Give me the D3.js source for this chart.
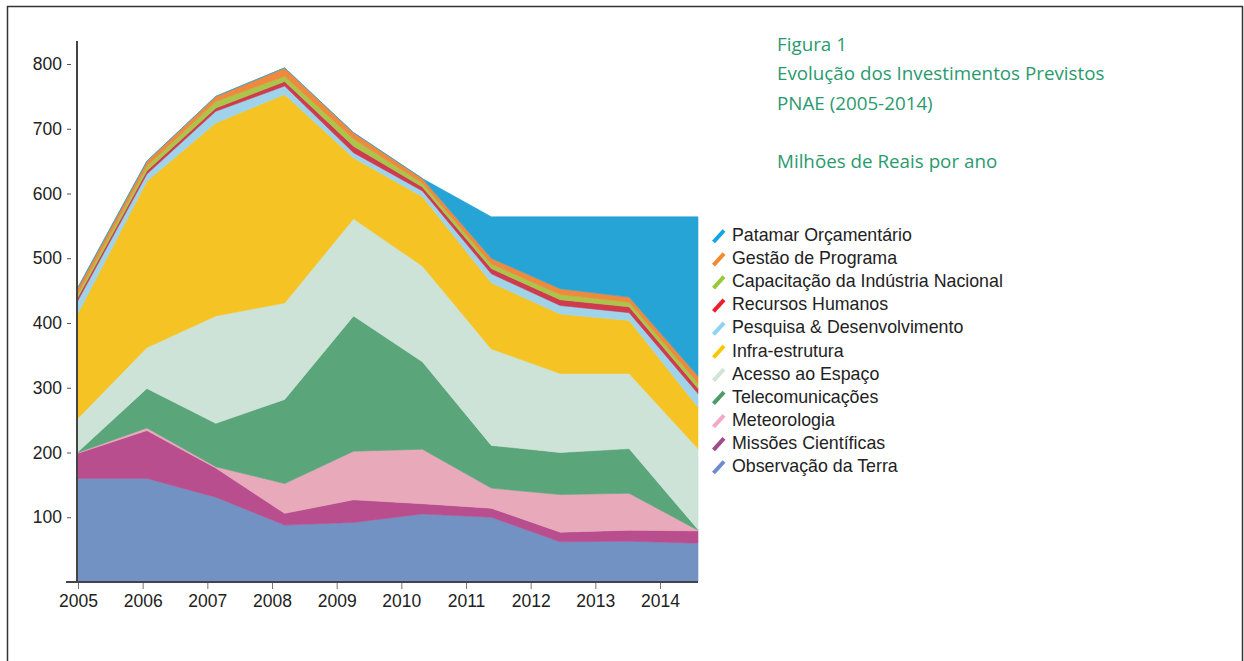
<!DOCTYPE html>
<html>
<head>
<meta charset="utf-8">
<script src="https://cdn.jsdelivr.net/npm/d3@7"></script>
<style>
  body { margin: 0; background: #fff; }
  svg text { font-family: "Liberation Sans", Arial, sans-serif; }
</style>
</head>
<body>
<div id="container"></div>
<script>
// years and series (Milhões de Reais por ano), bottom to top of the stack
var years = [2005, 2006, 2007, 2008, 2009, 2010, 2011, 2012, 2013, 2014]
var observacao = [160, 160, 131, 88, 92, 105, 100, 62, 63, 60]
var missoes = [39, 74, 45, 18, 35, 16, 14, 15, 17, 19]
var meteorologia = [1, 4, 2, 46, 75, 84, 31, 58, 57, 1]
var telecom = [1, 61, 67, 130, 209, 135, 66, 65, 69, 1]
var acesso = [52, 63, 166, 149, 150, 148, 149, 122, 116, 125]
var infra = [162, 257, 298, 322, 94, 107, 102, 92, 82, 64]
var pesquisa = [20, 11, 18, 13, 8, 9, 14, 13, 12, 21]
var recursos = [5, 5, 5, 7, 10, 6, 8, 9, 9, 8]
var capacitacao = [6, 7, 10, 8, 11, 6, 7, 8, 7, 8]
var gestao = [9, 8, 8, 13, 10, 7, 9, 9, 8, 11]
var patamar = [0, 0, 0, 0, 0, 0, 64, 111, 124, 246]

var yTicks = [100, 200, 300, 400, 500, 600, 700, 800]

var seriesNames = ["Observação da Terra", "Missões Científicas", "Meteorologia", "Telecomunicações",
  "Acesso ao Espaço", "Infra-estrutura", "Pesquisa & Desenvolvimento", "Recursos Humanos",
  "Capacitação da Indústria Nacional", "Gestão de Programa", "Patamar Orçamentário"]
var seriesValues = [observacao, missoes, meteorologia, telecom, acesso, infra, pesquisa,
  recursos, capacitacao, gestao, patamar]
var areaColors = ["#7292c4", "#b94e8f", "#e8a9bb", "#5aa67a", "#cde3d7", "#f5c324",
  "#9fd3ea", "#cf3a4f", "#a9c64b", "#ee8a3d", "#27a4d6"]
var legendColors = ["#6b8ccf", "#a34a8a", "#f3a9c4", "#4f9a6b", "#cfe6d6", "#f9c700",
  "#8fd3f3", "#e8202f", "#98c93c", "#f28a30", "#10a5e6"]

var titleLines = ["Figura 1", "Evolução dos Investimentos Previstos", "PNAE (2005-2014)", "", "Milhões de Reais por ano"]

var width = 1244
var height = 661

var svg = d3.select("#container")
  .append("svg")
  .attr("width", width)
  .attr("height", height)

// outer frame
svg.append("rect")
  .attr("x", 7.5)
  .attr("y", 6.5)
  .attr("width", 1235)
  .attr("height", 720)
  .attr("fill", "none")
  .attr("stroke", "#333")
  .attr("stroke-width", 1.5)

// build rows for the stack
var table = years.map(function(yr, i) {
  var row = { year: yr }
  seriesNames.forEach(function(name, k) { row[name] = seriesValues[k][i] })
  return row
})

var stack = d3.stack().keys(seriesNames)
var layers = stack(table)

// data points spread across the plot, axis ticks on their own spacing
var xData = d3.scalePoint().domain(years).range([78, 698])
var xAxisScale = d3.scalePoint().domain(years).range([78, 660])
var y = d3.scaleLinear().domain([0, 800]).range([582, 64])

var area = d3.area()
  .x(function(d) { return xData(d.data.year) })
  .y0(function(d) { return y(d[0]) })
  .y1(function(d) { return y(d[1]) })

svg.append("g")
  .selectAll("path")
  .data(layers)
  .enter()
  .append("path")
  .attr("d", area)
  .attr("fill", function(d, i) { return areaColors[i] })
  .attr("stroke", function(d, i) { return areaColors[i] })
  .attr("stroke-width", 0.6)
  .attr("stroke-linejoin", "round")

// y axis
var yAxis = svg.append("g")
  .attr("transform", "translate(77,0)")
  .call(d3.axisLeft(y).tickValues(yTicks).tickSize(6).tickPadding(10))
yAxis.select(".domain").remove()
yAxis.selectAll(".tick line")
  .attr("x1", -6).attr("x2", -10)
  .attr("stroke", "#555")
yAxis.selectAll(".tick text")
  .attr("x", -15)
  .style("font-size", "17.5px")
  .attr("fill", "#222")

svg.append("line")
  .attr("x1", 77).attr("x2", 77)
  .attr("y1", 41).attr("y2", 583)
  .attr("stroke", "#444")
  .attr("stroke-width", 2)

// x axis
var xAxis = svg.append("g")
  .attr("transform", "translate(0,582)")
  .call(d3.axisBottom(xAxisScale).tickSize(7).tickPadding(6).tickFormat(d3.format("d")))
xAxis.select(".domain").remove()
xAxis.selectAll(".tick line").attr("stroke", "#777")
xAxis.selectAll(".tick text")
  .style("font-size", "17.5px")
  .attr("fill", "#222")

svg.append("line")
  .attr("x1", 66).attr("x2", 698)
  .attr("y1", 582).attr("y2", 582)
  .attr("stroke", "#444")
  .attr("stroke-width", 2)

// title
svg.append("g")
  .selectAll("text")
  .data(titleLines)
  .enter()
  .append("text")
  .attr("x", 777)
  .attr("y", function(d, i) { return 51 + i * 29.3 })
  .text(function(d) { return d })
  .style("font-family", "'Open Sans', 'Noto Sans', sans-serif")
  .style("font-size", "18.8px")
  .attr("fill", "#2a9a6e")

// legend, top entry is the top of the stack
var legendOrder = seriesNames.map(function(n, i) { return i }).reverse()
var legend = svg.append("g")
  .selectAll("g")
  .data(legendOrder)
  .enter()
  .append("g")
  .attr("transform", function(d, i) { return "translate(712," + (235 + i * 23.1) + ")" })

legend.append("line")
  .attr("x1", 1.5).attr("y1", 7)
  .attr("x2", 12).attr("y2", -4.5)
  .attr("stroke", function(d) { return legendColors[d] })
  .attr("stroke-width", 4)

legend.append("text")
  .attr("x", 20)
  .attr("y", 6)
  .text(function(d) { return seriesNames[d] })
  .style("font-size", "17.8px")
  .attr("fill", "#222")
</script>
</body>
</html>
